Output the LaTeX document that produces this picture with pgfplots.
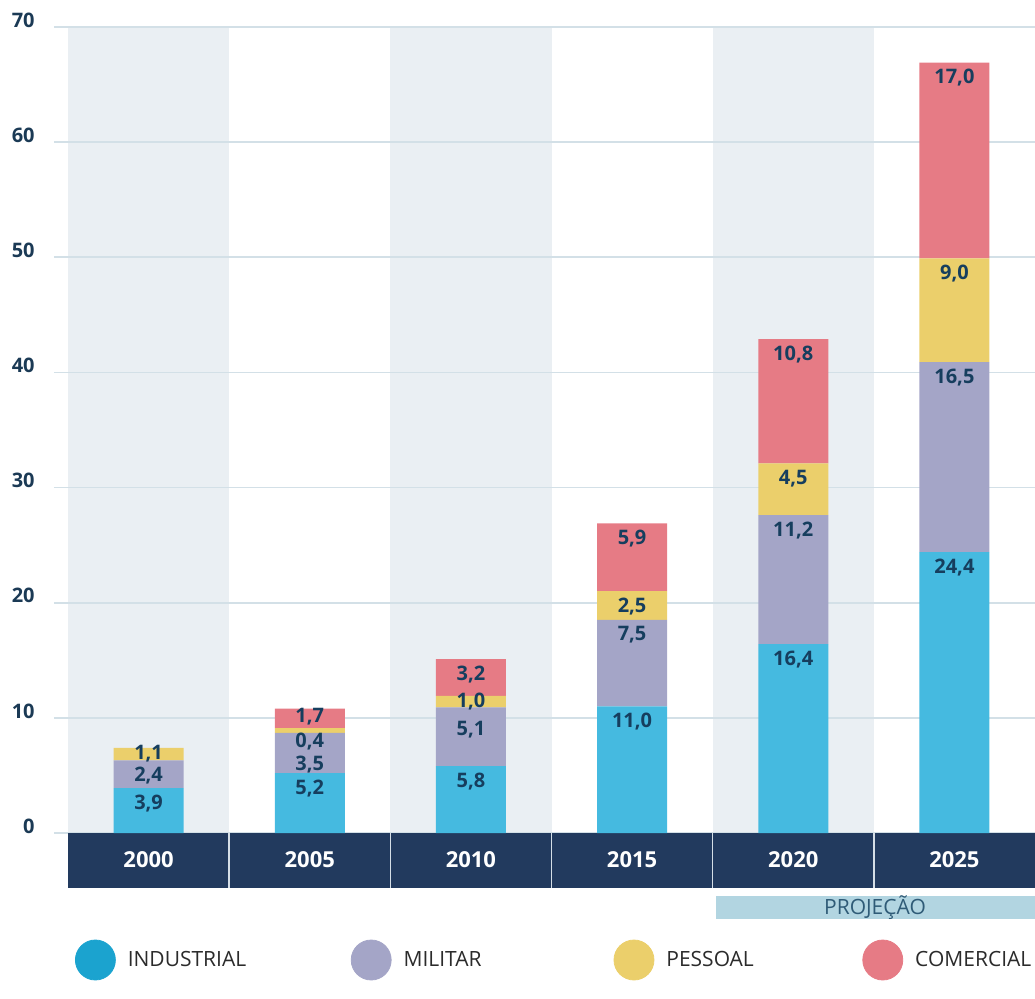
\documentclass[border=0pt]{standalone}
\usepackage{fontspec}
\setmainfont{Open Sans}
\usepackage{pgfplots}
\usepackage{pgfplotstable}
\pgfplotsset{compat=1.18}
\definecolor{navy}{HTML}{223A5E}
\definecolor{shadec}{HTML}{EAEFF3}
\definecolor{gridc}{HTML}{D3E0E7}
\definecolor{indc}{HTML}{45BAE0}
\definecolor{indleg}{HTML}{1BA3CF}
\definecolor{milc}{HTML}{A4A5C7}
\definecolor{pesc}{HTML}{EBCF6B}
\definecolor{comc}{HTML}{E67B85}
\definecolor{valc}{HTML}{163E5E}
\definecolor{tickc}{HTML}{1B3A55}
\definecolor{projc}{HTML}{B2D5E1}
\definecolor{projt}{HTML}{2F5B77}
\definecolor{legt}{HTML}{2B2B2B}
\definecolor{sepc}{HTML}{D5DEE6}

% values; d* = vertical offset (pt) of each value label below the top of its segment
\pgfplotstableread{
x ind mil pes com dind dmil dpes dcom
0 3.9 2.4 1.1 0 -7.5 -7.5 -3 -7.5
1 5.2 3.5 0.4 1.7 -7.5 -16 -6.5 -4
2 5.8 5.1 1.0 3.2 -7.5 -11.25 -3 -7.5
3 11.0 7.5 2.5 5.9 -7.5 -7.5 -7.5 -7.5
4 16.4 11.2 4.5 10.8 -7.5 -7.5 -7.5 -7.5
5 24.4 16.5 9.0 17.0 -7.5 -7.5 -7.5 -7.5
}\datatable

\begin{document}
\begin{tikzpicture}
% background decoration (axis box: 483.5pt x 403pt, lower-left at origin)
\fill[shadec] (0pt,0pt) rectangle (80.583pt,403pt);
\fill[shadec] (161.167pt,0pt) rectangle (241.75pt,403pt);
\fill[shadec] (322.333pt,0pt) rectangle (402.917pt,403pt);
\foreach \k in {0,...,7} {
  \draw[gridc, line width=0.8pt] (-7pt,{\k*57.571pt}) -- (483.5pt,{\k*57.571pt});
}
\fill[navy] (0pt,0pt) rectangle (483.5pt,-27.5pt);
\foreach \k in {1,...,5} {
  \draw[sepc, line width=0.8pt] ({\k*80.583pt},0pt) -- ({\k*80.583pt},-27.5pt);
}
\fill[projc] (324pt,-31.5pt) rectangle (483.5pt,-43pt);
\node[font=\fontsize{10.5}{12}\selectfont, text=projt] at (403.5pt,-37.25pt) {PROJEÇÃO};
\begin{axis}[
  at={(0pt,0pt)}, anchor=south west,
  scale only axis,
  width=483.5pt, height=403pt,
  xmin=-0.5, xmax=5.5, ymin=0, ymax=70,
  clip=false,
  axis line style={draw=none},
  major tick length=0pt,
  ytick={0,10,...,70},
  xtick={0,1,2,3,4,5},
  xticklabels={2000,2005,2010,2015,2020,2025},
  yticklabel style={anchor=east, inner sep=0pt, xshift=-16.5pt, yshift=3.5pt,
    font=\bfseries\fontsize{10}{12}\selectfont, text=tickc},
  xticklabel style={anchor=center, inner sep=0pt, yshift=-13.5pt,
    font=\bfseries\fontsize{11}{13}\selectfont, text=white},
  /pgf/number format/assume math mode=true,
  ybar stacked,
  bar width=35pt,
  point meta=explicit,
  nodes near coords={\pgfmathfloatifflags{\pgfplotspointmeta}{0}{}{\pgfmathprintnumber[fixed,fixed zerofill,precision=1,use comma,assume math mode=true]{\pgfplotspointmeta}}},
  every node near coord/.append style={anchor=center, yshift=\dy pt,
    font=\bfseries\fontsize{10}{12}\selectfont, text=valc},
  legend columns=4,
  legend style={at={(axis cs:-0.4566,-11.03)}, anchor=west, draw=none, fill=none,
    inner sep=0pt, outer sep=0pt,
    font=\fontsize{10.5}{12}\selectfont, text=legt,
    nodes={inner sep=0pt, anchor=west},
    /tikz/every odd column/.append style={column sep=6pt},
    /tikz/every even column/.append style={column sep=0pt}},
]
\addlegendimage{legend image code/.code={\fill[indleg] (0pt,0pt) circle (10pt);}}
\addlegendentry{\makebox[111.5pt][l]{INDUSTRIAL}}
\addlegendimage{legend image code/.code={\fill[milc] (0pt,0pt) circle (10pt);}}
\addlegendentry{\makebox[105pt][l]{MILITAR}}
\addlegendimage{legend image code/.code={\fill[pesc] (0pt,0pt) circle (10pt);}}
\addlegendentry{\makebox[98pt][l]{PESSOAL}}
\addlegendimage{legend image code/.code={\fill[comc] (0pt,0pt) circle (10pt);}}
\addlegendentry{COMERCIAL}
% labels sit at the segment middle by default: shift to top (+half height) then by d*
\addplot[fill=indc, draw=none, forget plot,
  visualization depends on={\thisrow{ind}*2.878571+\thisrow{dind} \as \dy}]
  table[x=x, y=ind, meta=ind] {\datatable};
\addplot[fill=milc, draw=none, forget plot,
  visualization depends on={\thisrow{mil}*2.878571+\thisrow{dmil} \as \dy}]
  table[x=x, y=mil, meta=mil] {\datatable};
\addplot[fill=pesc, draw=none, forget plot,
  visualization depends on={\thisrow{pes}*2.878571+\thisrow{dpes} \as \dy}]
  table[x=x, y=pes, meta=pes] {\datatable};
\addplot[fill=comc, draw=none, forget plot,
  visualization depends on={\thisrow{com}*2.878571+\thisrow{dcom} \as \dy}]
  table[x=x, y=com, meta=com] {\datatable};
\end{axis}
\pgfresetboundingbox
\path[use as bounding box] (-34pt,-82.5pt) rectangle (483.5pt,416.5pt);
\end{tikzpicture}
\end{document}
